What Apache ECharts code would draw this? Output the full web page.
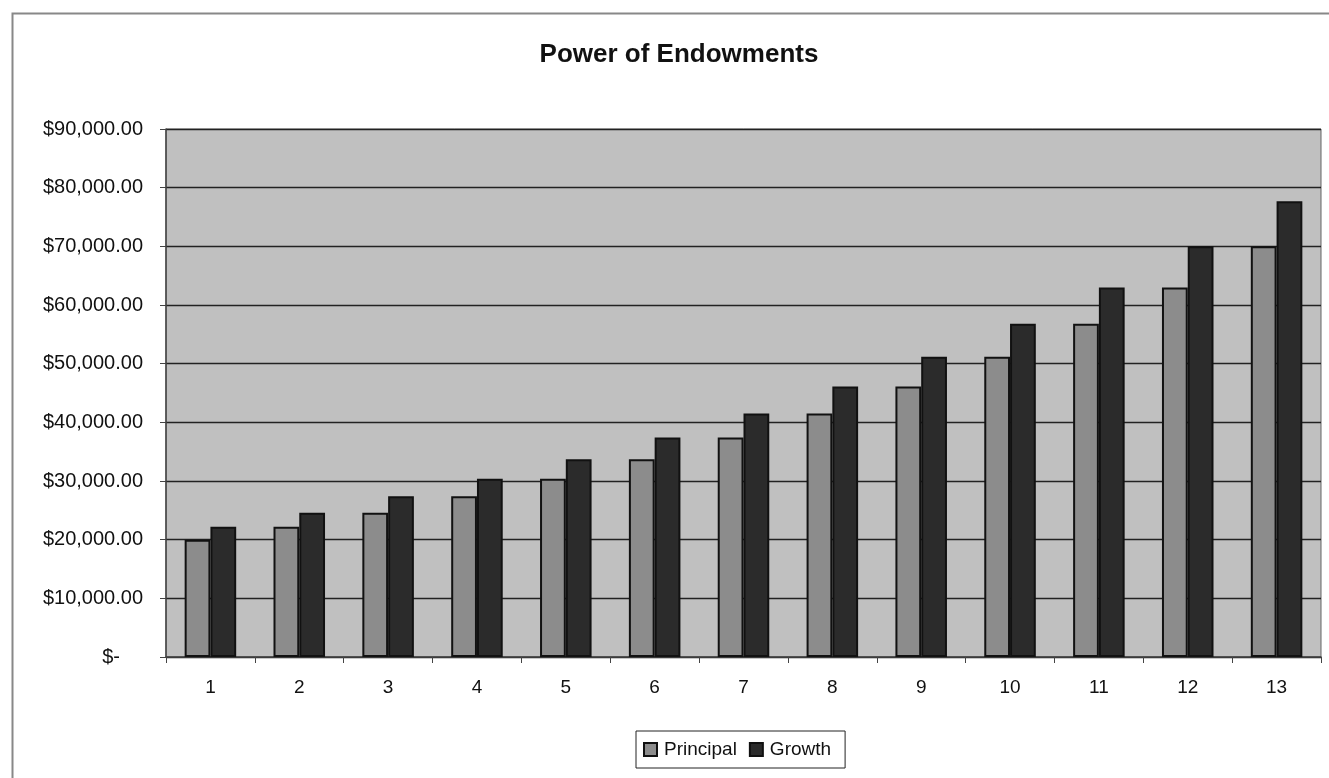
<!DOCTYPE html>
<html>
<head>
<meta charset="utf-8">
<script src="https://cdn.jsdelivr.net/npm/echarts@6/dist/echarts.min.js"></script>
<style>html,body{margin:0;padding:0;background:#fff}#c{width:1329px;height:778px}</style>
</head>
<body>
<div id="c"></div>
<script>
var categories = ['1','2','3','4','5','6','7','8','9','10','11','12','13'];
var principal = [20000, 22200, 24600, 27400, 30400, 33700, 37400, 41500, 46100, 51200, 56800, 63000, 70000];
var growth = [22200, 24600, 27400, 30400, 33700, 37400, 41500, 46100, 51200, 56800, 63000, 70000, 77700];
var seriesNames = ['Principal', 'Growth'];
var titleText = 'Power of Endowments';

function fmt(v) {
  if (v === 0) return '{z|$-}';
  return '$' + v.toLocaleString('en-US', {minimumFractionDigits: 2, maximumFractionDigits: 2});
}

var chart = echarts.init(document.getElementById('c'));
var font = 'Liberation Sans, Arial, sans-serif';
var fs = 19;
chart.setOption({
  backgroundColor: '#fff',
  animation: false,
  textStyle: {fontFamily: font},
  title: {
    text: titleText,
    left: 674, top: 37, textAlign: 'center',
    textStyle: {fontSize: 26, fontWeight: 'bold', color: '#111', fontFamily: font}
  },
  graphic: [{
    type: 'rect', left: 10, top: 11, z: -1,
    shape: {width: 1340, height: 790},
    style: {fill: 'none', stroke: '#888', lineWidth: 2}
  }],
  legend: {
    left: 636, top: 731,
    padding: [9, 14, 9, 7],
    borderColor: '#222', borderWidth: 1,
    itemWidth: 13, itemHeight: 13, itemGap: 12,
    icon: 'rect',
    textStyle: {fontSize: fs, color: '#111', fontFamily: font, padding: [0, 0, 0, 2]},
    data: seriesNames
  },
  grid: {left: 166, right: 8, top: 129, bottom: 121, show: true, backgroundColor: '#c0c0c0', borderColor: '#666', borderWidth: 1},
  xAxis: {
    type: 'category', data: categories,
    axisLine: {lineStyle: {color: '#444', width: 1.5}},
    axisTick: {show: true, length: 6, lineStyle: {color: '#444'}},
    axisLabel: {fontSize: fs, color: '#111', margin: 21, fontFamily: font}
  },
  yAxis: {
    type: 'value', min: 0, max: 90000, interval: 10000,
    axisLine: {show: true, lineStyle: {color: '#444', width: 1.5}},
    axisTick: {show: true, length: 6, lineStyle: {color: '#444'}},
    splitLine: {lineStyle: {color: '#222', width: 1.3}},
    axisLabel: {
      fontSize: 20, color: '#111', margin: 23, fontFamily: font,
      formatter: fmt,
      rich: {z: {fontSize: 20, color: '#111', padding: [0, 23, 0, 0], fontFamily: font}}
    }
  },
  series: [{
    name: seriesNames[0], type: 'bar', data: principal,
    barGap: '0%', barCategoryGap: '42%',
    itemStyle: {color: '#8c8c8c', borderColor: '#111', borderWidth: 2}
  }, {
    name: seriesNames[1], type: 'bar', data: growth,
    barGap: '0%', barCategoryGap: '42%',
    itemStyle: {color: '#2b2b2b', borderColor: '#111', borderWidth: 2}
  }]
});
</script>
</body>
</html>
